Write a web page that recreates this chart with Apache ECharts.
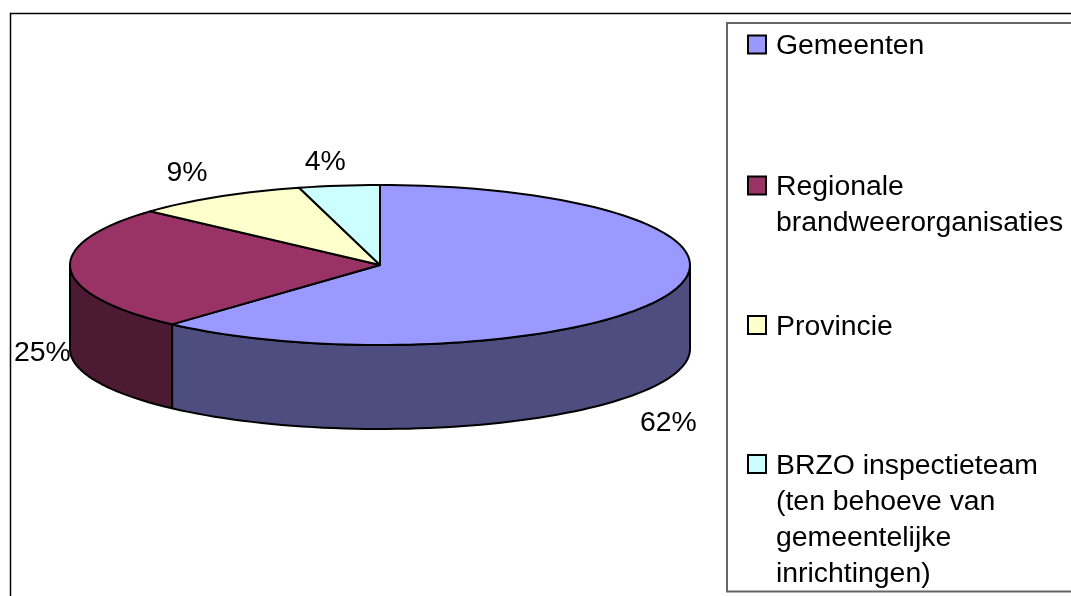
<!DOCTYPE html>
<html>
<head>
<meta charset="utf-8">
<style>html,body{margin:0;padding:0;background:#fff}#c{width:1071px;height:596px}</style>
<script src="https://cdn.jsdelivr.net/npm/echarts@6/dist/echarts.min.js"></script>
</head>
<body>
<div id="c"></div>
<script>
const categories = ['Gemeenten', 'Regionale\nbrandweerorganisaties', 'Provincie', 'BRZO inspectieteam\n(ten behoeve van\ngemeentelijke\ninrichtingen)'];
const values = [61.7, 25, 9.1, 4.2];
const topColors = ['#9999ff', '#993366', '#ffffcc', '#ccffff'];
const wallColors = ['#4d4d80', '#4d1a33', '#808066', '#668080'];

// Pie geometry and label placement (style, not data)
const PIE = { cx: 380, cy: 265, rx: 310, ry: 80, depth: 84 };
const LABEL_NUDGE = [[-1, 129], [-28, 84], [-31, -24], [-14, -24]];
const LEGEND_Y = [44.5, 185.5, 325, 464];
const FONT = 'Liberation Sans, Arial, sans-serif';
const FONT_SIZE = 28.4;
const LINE = 36;

const total = values.reduce((a, b) => a + b, 0);
const frac = i => values.slice(0, i).reduce((a, b) => a + b, 0) / total;
const pt = (deg, dy) => {
  const r = deg * Math.PI / 180;
  return [PIE.cx + PIE.rx * Math.sin(r), PIE.cy - PIE.ry * Math.cos(r) + (dy || 0)];
};
const arc = (a0, a1, dy) => {
  const out = [];
  const n = Math.max(2, Math.ceil(Math.abs(a1 - a0) / 2));
  for (let k = 0; k <= n; k++) out.push(pt(a0 + (a1 - a0) * k / n, dy));
  return out;
};

function renderSlice(params, api) {
  const i = params.seriesIndex;
  const a0 = frac(i) * 360, a1 = frac(i + 1) * 360;
  const stroke = { stroke: '#000', lineWidth: 2, lineJoin: 'round' };
  const children = [];
  const w0 = Math.max(a0, 90), w1 = Math.min(a1, 270);
  if (w1 > w0) {
    children.push({
      type: 'polygon',
      shape: { points: arc(w0, w1, 0).concat(arc(w1, w0, PIE.depth)) },
      style: Object.assign({ fill: wallColors[i] }, stroke)
    });
  }
  children.push({
    type: 'polygon',
    shape: { points: [[PIE.cx, PIE.cy]].concat(arc(a0, a1, 0)) },
    style: Object.assign({ fill: topColors[i] }, stroke)
  });
  const m = pt((a0 + a1) / 2, 0);
  children.push({
    type: 'text',
    style: {
      x: m[0] + LABEL_NUDGE[i][0], y: m[1] + LABEL_NUDGE[i][1],
      text: Math.round(api.value(0) / total * 100) + '%',
      fill: '#000', font: FONT_SIZE + 'px ' + FONT, align: 'center', verticalAlign: 'middle'
    }
  });
  return { type: 'group', children };
}

const option = {
  animation: false,
  backgroundColor: '#fff',
  graphic: [
    { type: 'rect', z: -1, shape: { x: 10.5, y: 13.5, width: 1100, height: 620 }, style: { fill: 'none', stroke: '#000', lineWidth: 1.5 } },
    { type: 'rect', z: -1, shape: { x: 727, y: 23, width: 400, height: 568.5 }, style: { fill: 'none', stroke: '#666', lineWidth: 2 } }
  ],
  legend: categories.map((name, i) => {
    const n = name.split('\n').length;
    return {
      data: [name],
      left: 747,
      top: LEGEND_Y[i] - (2 * n - 1) * LINE / 2,
      padding: 0,
      itemWidth: 18,
      itemHeight: 22,
      itemGap: 0,
      icon: 'path://M0 0H18V18H0Z M0 22L0 22',
      selectedMode: false,
      itemStyle: { borderColor: '#000', borderWidth: 2 },
      textStyle: { fontFamily: FONT, fontSize: FONT_SIZE, color: '#000', lineHeight: LINE, padding: [4, 0, 0, 5] },
      formatter: nm => '\n'.repeat(nm.split('\n').length - 1) + nm
    };
  }),
  series: categories.map((name, i) => ({
    type: 'custom',
    name,
    coordinateSystem: 'none',
    silent: true,
    itemStyle: { color: topColors[i] },
    data: [[values[i]]],
    renderItem: renderSlice
  }))
};
const chart = echarts.init(document.getElementById('c'), null, { renderer: 'canvas' });
chart.setOption(option);
</script>
</body>
</html>
